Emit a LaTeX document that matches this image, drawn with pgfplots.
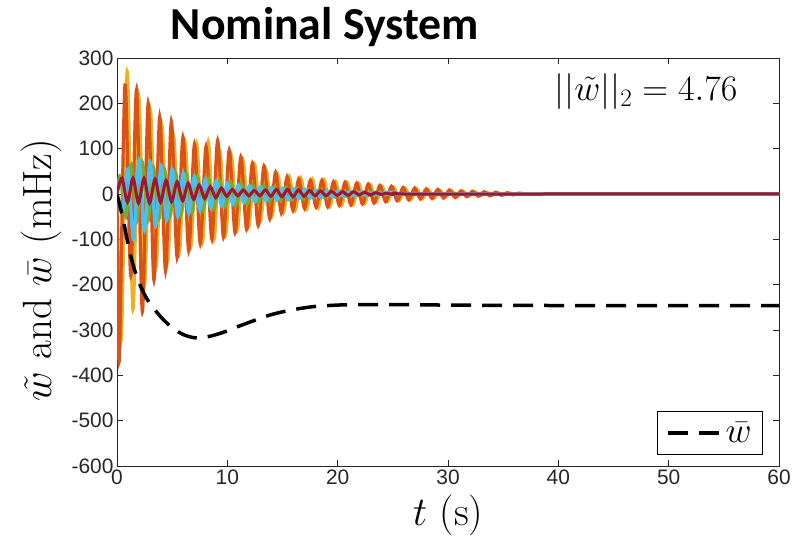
\RequirePackage{fix-cm}
\documentclass[border=0pt]{standalone}
\usepackage{fontspec}
\usepackage{pgfplots}
\pgfplotsset{compat=1.18}
\newfontfamily\arialf{Liberation Sans}
\newfontfamily\calibri{Carlito}
\definecolor{mOrange}{rgb}{0.85,0.325,0.098}
\definecolor{mYellow}{rgb}{0.929,0.694,0.125}
\definecolor{mGreen}{rgb}{0.466,0.674,0.188}
\definecolor{mLBlue}{rgb}{0.301,0.745,0.933}
\definecolor{mRed}{rgb}{0.635,0.078,0.184}
\definecolor{axgray}{rgb}{0.15,0.15,0.15}
\pgfplotsset{wbar legend/.style={legend image code/.code={\draw[##1] (0bp,0bp) -- (54bp,0bp);}}}
\begin{document}
\begin{tikzpicture}
\path[use as bounding box] (0,0) rectangle (794bp,546bp);
\begin{axis}[
  at={(117bp,80bp)}, anchor=south west,
  scale only axis, width=662bp, height=408bp,
  xmin=0, xmax=60, ymin=-600, ymax=300,
  xtick={0,10,...,60}, ytick={-600,-500,...,300},
  tick align=inside, major tick length=6bp,
  axis line style={axgray, line width=0.8bp},
  tick style={axgray, line width=0.8bp},
  tick label style={font=\fontsize{21}{24}\selectfont\arialf, text=axgray},
  /pgf/number format/assume math mode=true,
  /pgf/number format/set thousands separator={},
  xlabel={$t$ (s)},
  ylabel={$\tilde{w}$ and $\bar{w}$ (mHz)},
  label style={font=\fontsize{41}{48}\selectfont},
  xlabel style={at={(axis description cs:0.5,-0.12)}, anchor=center},
  ylabel style={at={(axis description cs:-0.115,0.48)}, anchor=center},
  legend style={at={(axis description cs:0.976,0.027)}, anchor=south east,
    font=\fontsize{36}{40}\selectfont, draw=black, line width=0.8bp,
    inner xsep=9bp, inner ysep=9bp},
  clip=true,
]
\addplot[mYellow, line width=3.2bp, smooth, forget plot] coordinates {
(0,0)(0.4,-320)(0.925,270)(1.45,-255)(1.975,215)(2.5,-200)(3.025,185)(3.55,-160)(4.075,150)(4.6,-150)(5.125,130)
(5.65,-130)(6.175,115)(6.7,-115)(7.225,110)(7.75,-105)(8.275,115)(8.8,-100)(9.325,95)(9.85,-90)(10.375,85)
(10.9,-80)(11.425,75)(11.95,-72)(12.475,65)(13.0,-60)(13.525,52)(14.05,-48)(14.575,42)(15.1,-40)(15.625,38)
(16.15,-36)(16.675,35)(17.2,-33)(17.725,32)(18.25,-30)(18.775,31)(19.3,-28)(19.825,27)(20.35,-26)(20.875,25)
(21.4,-24)(21.925,23)(22.45,-21)(22.975,20)(23.5,-18)(24.025,17)(24.55,-16)(25.075,15)(25.6,-14)(26.125,13)
(26.65,-12)(27.175,11)(27.7,-10)(28.225,10)(28.75,-9)(29.275,8)(29.8,-7)(30.325,7)(30.85,-6)(31.375,6)
(31.9,-5)(32.425,5)(32.95,-4)(33.475,4)(34.0,-3)(34.525,3)(35.05,-2)(35.575,2)(36.3,0)(40,0)(60,0)
};
\addplot[mOrange, line width=3.2bp, smooth, forget plot] coordinates {
(0,0)(0.2,-370)(0.725,240)(1.25,-180)(1.775,230)(2.3,-260)(2.825,200)(3.35,-190)(3.875,170)(4.4,-170)(4.925,160)
(5.45,-140)(5.975,125)(6.5,-125)(7.025,110)(7.55,-110)(8.075,105)(8.6,-100)(9.125,118)(9.65,-95)(10.175,97)
(10.7,-85)(11.225,82)(11.75,-78)(12.275,68)(12.8,-70)(13.325,62)(13.85,-55)(14.375,48)(14.9,-42)(15.425,38)
(15.95,-36)(16.475,33)(17.0,-32)(17.525,30)(18.05,-29)(18.575,30)(19.1,-28)(19.625,27)(20.15,-25)(20.675,26)
(21.2,-24)(21.725,24)(22.25,-22)(22.775,22)(23.3,-20)(23.825,19)(24.35,-17)(24.875,17)(25.4,-15)(25.925,14)
(26.45,-13)(26.975,13)(27.5,-11)(28.025,11)(28.55,-10)(29.075,10)(29.6,-9)(30.125,9)(30.65,-8)(31.175,7)
(31.7,-6)(32.225,6)(32.75,-5)(33.275,5)(33.8,-4)(34.325,4)(34.85,-3)(35.375,3)(35.9,-2)(36.425,2)(37.2,0)(40,0)(60,0)
};
\addplot[mGreen, line width=3.2bp, smooth, forget plot] coordinates {
(0,0)(0.3,40)(0.8,-50)(1.3,65)(1.8,-60)(2.3,70)(2.8,-60)(3.3,60)(3.8,-55)(4.3,55)(4.8,-50)(5.3,48)(5.8,-45)(6.3,42)(6.8,-40)(7.3,38)(7.8,-36)(8.3,34)(8.8,-32)(9.3,30)(9.8,-28)(10.3,26)(10.8,-25)(11.3,23)(11.8,-22)(12.3,20)(12.8,-19)(13.3,18)(13.8,-17)(14.3,16)(14.8,-15)(15.3,14)(15.8,-13)(16.3,12)(16.8,-11)(17.3,10)(17.8,-9)(18.3,9)(18.8,-8)(19.3,7)(19.8,-7)(20.3,6)(20.8,-5)(21.3,5)(21.8,-4)(22.3,4)(22.8,-3)(23.3,3)(24,0)(40,0)(60,0)
};
\addplot[mLBlue, line width=3.2bp, smooth, forget plot] coordinates {
(0,0)(0.5,-40)(1.0,55)(1.5,-100)(2.0,75)(2.5,-80)(3.0,70)(3.5,-70)(4.0,62)(4.5,-58)(5.0,55)(5.5,-50)(6.0,46)(6.5,-42)(7.0,38)(7.5,-35)(8.0,32)(8.5,-30)(9.0,28)(9.5,-26)(10.0,24)(10.5,-22)(11.0,20)(11.5,-19)(12.0,18)(12.5,-17)(13.0,16)(13.5,-15)(14.0,14)(14.5,-13)(15.0,12)(15.5,-12)(16.0,11)(16.5,-10)(17.0,10)(17.5,-9)(18.0,8)(18.5,-8)(19.0,7)(19.5,-6)(20.0,6)(20.5,-5)(21.0,5)(21.5,-4)(22.0,4)(22.5,-3)(23.0,3)(23.5,-2)(24.0,2)(25,0)(40,0)(60,0)
};
\addplot[mRed, line width=3bp, smooth, forget plot] coordinates {
(0,0)(0.45,35)(0.95,-18)(1.45,35)(1.95,-20)(2.45,35)(2.95,-20)(3.45,33)(3.95,-18)(4.45,30)(4.95,-17)(5.45,27)(5.95,-15)(6.45,24)(6.95,-12)(7.45,20)(7.95,-10)(8.45,16)(8.95,-8)(9.45,13)(9.95,-5)(10.45,10)(10.95,-4)(11.45,9)(11.95,-4)(12.45,8)(12.95,-4)(13.45,9)(13.95,-5)(14.45,10)(14.95,-6)(15.45,10)(15.95,-6)(16.45,9)(16.95,-5)(17.45,8)(17.95,-4)(18.45,7)(18.95,-4)(19.45,6)(19.95,-3)(20.45,5)(20.95,-3)(21.45,5)(21.95,-2)(22.45,4)(22.95,-2)(23.45,3)(23.95,-1)(24.45,2)(24.95,-1)(25.45,2)(26,0)(40,0)(60,0)
};
\addplot[black, line width=3.5bp, dash pattern=on 20bp off 11bp, smooth, wbar legend] coordinates {
(0,0)(0.5,-50)(1,-110)(1.5,-160)(2,-195)(2.5,-222)(3,-242)(4,-272)(5,-295)(6,-310)(7,-317)(8,-316)(9,-310)(10,-302)(11,-292)(12,-283)(13,-274)(14,-266)(15,-260)(16,-255)(17,-251)(18,-248)(20,-245)(22,-244)(25,-244)(30,-245)(40,-246)(60,-246)
};
\addlegendentry{$\bar{w}$}
\node[font=\fontsize{36}{42}\selectfont, anchor=center] at (axis description cs:0.799,0.917) {$||\tilde{w}||_2 = 4.76$};
\end{axis}
\node[font=\calibri\bfseries\fontsize{46}{52}\selectfont, anchor=center] at (325bp,519bp) {Nominal System};
\end{tikzpicture}
\end{document}
